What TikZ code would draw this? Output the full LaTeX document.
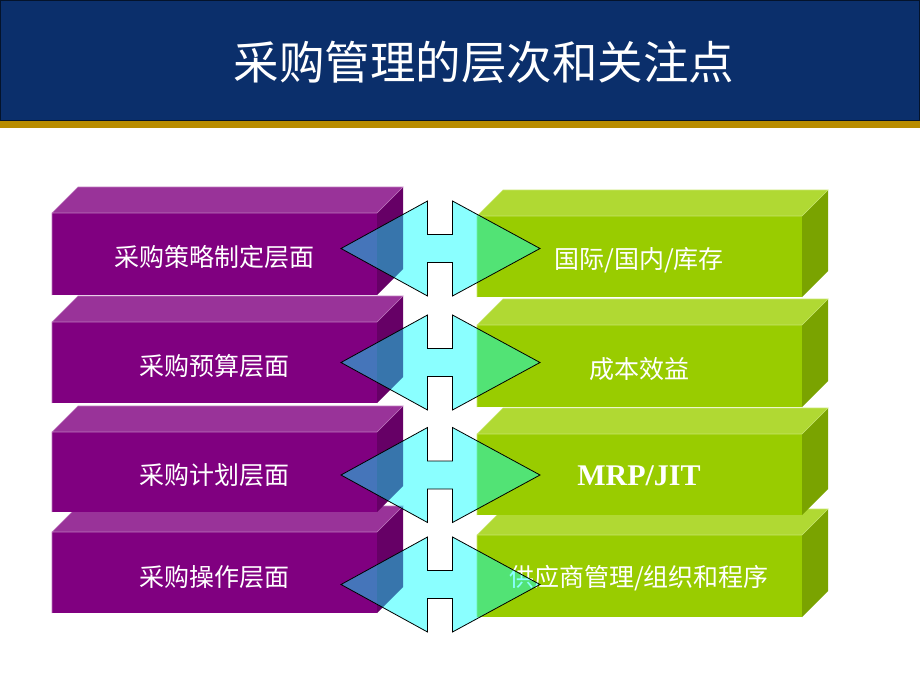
\documentclass[tikz,border=0pt]{standalone}
\usepackage{fontspec}
\setmainfont{Liberation Serif}
\newfontfamily\cjk{Noto Sans CJK SC}
\definecolor{hdrblue}{RGB}{11,47,107}
\definecolor{hdrgold}{RGB}{184,140,0}
\definecolor{pfront}{RGB}{128,0,128}
\definecolor{ptop}{RGB}{153,51,153}
\definecolor{pside}{RGB}{102,0,102}
\definecolor{pedge}{RGB}{190,120,190}
\definecolor{gfront}{RGB}{153,204,0}
\definecolor{gtop}{RGB}{176,217,51}
\definecolor{gside}{RGB}{122,163,0}
\definecolor{gedge}{RGB}{200,230,110}
\definecolor{arrowfill}{RGB}{0,255,255}
\newcommand\mycuboid[5]{%
  \fill[#5top] (#1,#2) -- (#3,#2) -- (#3+26,#2-26) -- (#1+26,#2-26) -- cycle;
  \fill[#5side] (#3,#2) -- (#3+26,#2-26) -- (#3+26,#4-26) -- (#3,#4) -- cycle;
  \fill[#5front] (#1,#2) rectangle (#3,#4);
  \draw[#5edge, line width=0.6pt] (#1,#4) -- (#1,#2) -- (#3,#2) -- (#3+26,#2-26) -- (#1+26,#2-26) -- (#1,#2);
}
\newcommand\mydblarrow[1]{%
  \draw[arrowstyle] (341,#1) -- (427.5,#1-47.5) -- (427.5,#1-14) -- (452.5,#1-14)
    -- (452.5,#1-47.5) -- (540,#1) -- (452.5,#1+47.5) -- (452.5,#1+14)
    -- (427.5,#1+14) -- (427.5,#1+47.5) -- cycle;
}
\tikzset{
  arrowstyle/.style={fill=arrowfill, fill opacity=0.46, draw=black, line width=0.8pt, line join=miter},
  lbl/.style={text=white, font=\cjk\fontsize{25}{25}\selectfont, inner sep=0pt},
}
\begin{document}
\begin{tikzpicture}[x=1pt,y=-1pt]
\useasboundingbox (0,0) rectangle (920,690);
\fill[white] (0,0) rectangle (920,690);
% header
\fill[hdrblue] (0,0) rectangle (920,121);
\draw[black!60!hdrblue, line width=1pt] (0.5,0.5) rectangle (919.5,121);
\fill[hdrgold] (0,121) rectangle (920,128);
\node[text=white, font=\cjk\fontsize{45.5}{46}\selectfont, inner sep=0pt] (title) at (484,62) {采购管理的层次和关注点};
% left boxes (bottom first)
\mycuboid{52}{532}{377}{613}{p}
\mycuboid{52}{432}{377}{512}{p}
\mycuboid{52}{322}{377}{403}{p}
\mycuboid{52}{213}{377}{295}{p}
% right boxes
\mycuboid{477}{535}{802}{617}{g}
\mycuboid{477}{434}{802}{515}{g}
\mycuboid{477}{325}{802}{407}{g}
\mycuboid{477}{216}{802}{297}{g}
% labels
\node[lbl] (L1) at (214.5,257) {采购策略制定层面};
\node[lbl] (L2) at (214.5,366) {采购预算层面};
\node[lbl] (L3) at (214.5,475) {采购计划层面};
\node[lbl] (L4) at (214.5,577) {采购操作层面};
\node[lbl] (R1) at (639,260) {国际/国内/库存};
\node[lbl] (R2) at (639,369) {成本效益};
\node[text=white, font=\bfseries\fontsize{30}{30}\selectfont, inner sep=0pt] (R3) at (639,476) {MRP/JIT};
\node[lbl] (R4) at (639,578) {供应商管理/组织和程序};
% double arrows
\mydblarrow{248.5}
\mydblarrow{362.5}
\mydblarrow{475}
\mydblarrow{584.5}
\end{tikzpicture}
\end{document}
